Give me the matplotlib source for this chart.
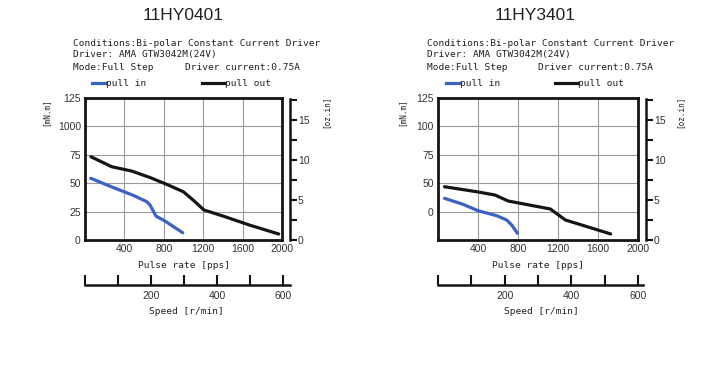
import matplotlib
matplotlib.use("Agg")
import matplotlib.pyplot as plt
from matplotlib.ticker import FixedLocator, FixedFormatter

W, H = 701, 370

titles = ["11HY0401", "11HY3401"]
condition_line1 = "Conditions:Bi-polar Constant Current Driver"
condition_line2 = "Driver: AMA GTW3042M(24V)"
mode_text = "Mode:Full Step"
current_text = "Driver current:0.75A"

pulse_ticks = [400, 800, 1200, 1600, 2000]
torque_tick_values = [0, 25, 50, 75, 100, 125]
left_torque_labels = ["0", "25", "50", "75", "1000", "125"]
right_torque_labels = ["", "0", "50", "75", "100", "125"]
oz_major = [0, 5, 10, 15]
oz_minor = [2.5, 7.5, 12.5, 17.5]
speed_ticks = [0, 100, 200, 300, 400, 500, 600]
speed_labels = ["", "", "200", "", "400", "", "600"]

# left chart (11HY0401)
l_out_x = [60, 271, 474, 660, 829, 998, 1100, 1208, 1404, 1675, 1966]
l_out_y = [73.3, 64.5, 60.7, 55.0, 49.0, 42.5, 35.0, 26.4, 21.0, 13.0, 5.3]
l_in_x = [58, 321, 490, 626, 660, 721, 812, 992]
l_in_y = [54.3, 45.0, 39.3, 33.8, 30.8, 21.0, 16.7, 6.4]

# right chart (11HY3401)
r_out_x = [65, 400, 569, 703, 787, 1123, 1274, 1492, 1727]
r_out_y = [46.9, 42.3, 39.6, 34.3, 32.9, 27.3, 17.6, 11.7, 5.3]
r_in_x = [65, 250, 400, 586, 687, 737, 795]
r_in_y = [36.7, 31.4, 25.8, 21.4, 17.6, 13.2, 5.9]

BLUE = "#3a62c2"
BLACK = "#151515"
MONO = "DejaVu Sans Mono"
SANS = "Liberation Sans"

fig = plt.figure(figsize=(W / 100, H / 100), dpi=100)


def rect(x0, y0, x1, y1):
    return [x0 / W, 1 - y1 / H, (x1 - x0) / W, (y1 - y0) / H]


def ftext(x, y, s, **kw):
    fig.text(x / W, 1 - y / H, s, **kw)


def panel(cfg):
    x0, x1 = cfg["box"]
    y0, y1 = 98, 240
    ax = fig.add_axes(rect(x0, y0, x1, y1))
    ax.set_xlim(0, 2000)
    ax.set_ylim(0, 125)
    ax.set_xticks(pulse_ticks)
    ax.set_xticklabels([str(v) for v in pulse_ticks], fontfamily=SANS, fontsize=7.5, color="#333333")
    ax.set_yticks(torque_tick_values)
    ax.set_yticklabels(cfg["ylabels"], fontfamily=SANS, fontsize=7.5, color="#333333")
    ax.tick_params(axis="both", length=0, pad=3)
    ax.grid(True, color="#9a9a9a", linewidth=0.8)
    ax.set_axisbelow(True)
    for s in ax.spines.values():
        s.set_linewidth(2.0)
        s.set_color(BLACK)
    ax.plot(cfg["out_x"], cfg["out_y"], color=BLACK, linewidth=2.3, solid_capstyle="round", zorder=3)
    ax.plot(cfg["in_x"], cfg["in_y"], color=BLUE, linewidth=2.3, solid_capstyle="round", zorder=3)

    ax2 = ax.twinx()
    ax2.set_ylim(0, 125 / 7.0616)
    for k in ("left", "top", "bottom"):
        ax2.spines[k].set_visible(False)
    ax2.spines["right"].set_position(("outward", 5.5))
    ax2.spines["right"].set_linewidth(1.8)
    ax2.spines["right"].set_color(BLACK)
    ax2.spines["right"].set_bounds(0, 17.6)
    ax2.yaxis.set_major_locator(FixedLocator(oz_major))
    ax2.yaxis.set_major_formatter(FixedFormatter([str(v) for v in oz_major]))
    ax2.yaxis.set_minor_locator(FixedLocator(oz_minor))
    ax2.tick_params(axis="y", which="both", direction="out", length=5, width=1.5, color=BLACK, pad=1)
    for lab in ax2.get_yticklabels():
        lab.set_fontfamily(SANS)
        lab.set_fontsize(7.5)
        lab.set_color("#333333")

    # speed axis
    sx0 = x0
    sx1 = cfg["speed_end"]
    ax3 = fig.add_axes(rect(sx0, 283.5, sx1, 284.5))
    ax3.patch.set_visible(False)
    for k in ("left", "right", "top"):
        ax3.spines[k].set_visible(False)
    ax3.spines["bottom"].set_linewidth(1.8)
    ax3.spines["bottom"].set_color(BLACK)
    ax3.set_xlim(0, 600 * (sx1 - sx0) / cfg["speed600"])
    ax3.set_yticks([])
    ax3.set_xticks(speed_ticks)
    ax3.set_xticklabels(speed_labels, fontfamily=SANS, fontsize=7.5, color="#333333")
    ax3.tick_params(axis="x", direction="in", length=7, width=1.5, color=BLACK, pad=5)

    cx = (x0 + x1) / 2
    ftext(cfg["title_x"], 16, cfg["title"], fontfamily=SANS, fontsize=12.5, ha="center", va="center", color="#222222")
    tx = cfg["text_x"]
    ftext(tx, 43, condition_line1, fontfamily=MONO, fontsize=6.8, ha="left", va="center", color="#222222")
    ftext(tx, 55, condition_line2, fontfamily=MONO, fontsize=6.8, ha="left", va="center", color="#222222")
    ftext(tx, 68, mode_text, fontfamily=MONO, fontsize=6.8, ha="left", va="center", color="#222222")
    ftext(cfg["cur_x"], 68, current_text, fontfamily=MONO, fontsize=6.8, ha="left", va="center", color="#222222")
    # legend
    lx = cfg["leg_in"]
    fig.add_artist(plt.Line2D([lx / W, (lx + 14) / W], [1 - 83 / H] * 2, color=BLUE, linewidth=2.3))
    ftext(lx + 14, 83, "pull in", fontfamily=MONO, fontsize=6.8, ha="left", va="center", color="#222222")
    lx = cfg["leg_out"]
    fig.add_artist(plt.Line2D([lx / W, (lx + 23) / W], [1 - 83 / H] * 2, color=BLACK, linewidth=2.3))
    ftext(lx + 23, 83, "pull out", fontfamily=MONO, fontsize=6.8, ha="left", va="center", color="#222222")

    ftext(cx, 266, "Pulse rate [pps]", fontfamily=MONO, fontsize=6.8, ha="center", va="center", color="#222222")
    ftext(cx + 3, 312, "Speed [r/min]", fontfamily=MONO, fontsize=6.8, ha="center", va="center", color="#222222")
    ftext(cfg["ylab_x"], 112, "[mN.m]", fontfamily=MONO, fontsize=5.5, rotation=90, ha="center", va="center", color="#222222")
    ftext(cfg["oz_x"], 112, "[oz.in]", fontfamily=MONO, fontsize=5.5, rotation=90, ha="center", va="center", color="#222222")


panel(dict(box=(85, 282), ylabels=left_torque_labels, out_x=l_out_x, out_y=l_out_y,
           in_x=l_in_x, in_y=l_in_y, speed_end=290, speed600=198, title=titles[0],
           title_x=183, text_x=73, cur_x=185, leg_in=92, leg_out=202, ylab_x=46, oz_x=326))
panel(dict(box=(438, 638), ylabels=right_torque_labels, out_x=r_out_x, out_y=r_out_y,
           in_x=r_in_x, in_y=r_in_y, speed_end=643, speed600=200, title=titles[1],
           title_x=535, text_x=427, cur_x=538, leg_in=446, leg_out=555, ylab_x=402, oz_x=680))

fig.savefig("out.png", dpi=100)
